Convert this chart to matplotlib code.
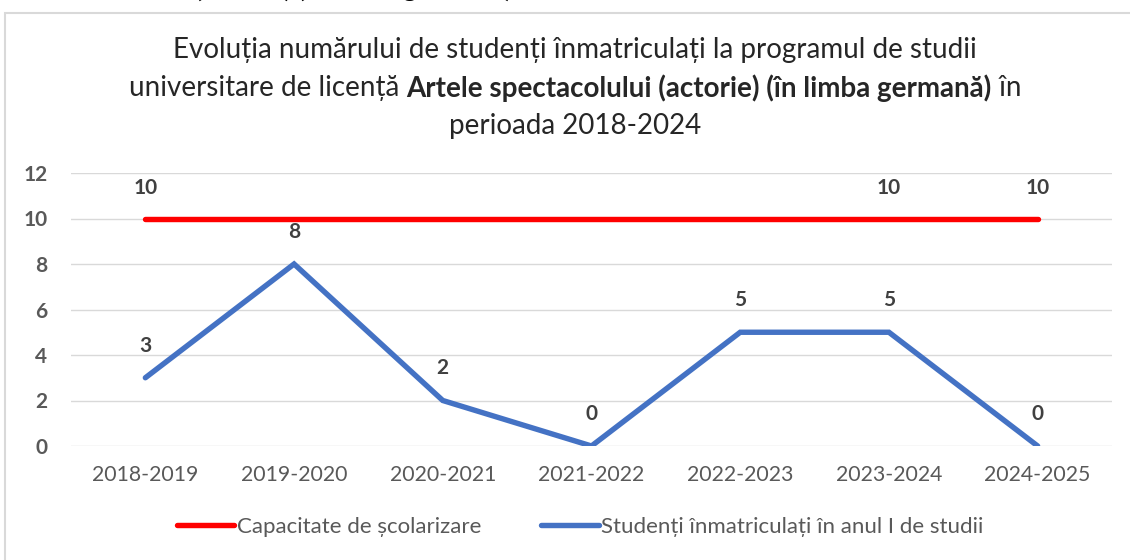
import matplotlib
matplotlib.use("Agg")
import matplotlib.pyplot as plt
from matplotlib.patches import Rectangle
from matplotlib.lines import Line2D

# --- data ---
ani = ["2018-2019", "2019-2020", "2020-2021", "2021-2022", "2022-2023", "2023-2024", "2024-2025"]
capacitate = [10, 10, 10, 10, 10, 10, 10]
inmatriculati = [3, 8, 2, 0, 5, 5, 0]
# etichetele afisate pe seria rosie (doar unele puncte)
capacitate_etichete = [0, 5, 6]

ROSU = "#ff0000"
ALBASTRU = "#4472c4"
GRI_TEXT = "#595959"
GRI_ETICH = "#404040"
FONT = "Lato"
LW = 3.9

plt.rcParams["font.family"] = [FONT, "DejaVu Sans"]

W, H = 1130, 560
fig = plt.figure(figsize=(W / 100, H / 100), dpi=100)

def px(x, y):
    # pixeli din imagine -> coordonate figura
    return x / W, 1 - y / H

# chenarul zonei graficului
fig.patches.append(Rectangle(px(5, 575), 1.2, (575 - 13) / H, transform=fig.transFigure,
                             fill=False, edgecolor="#d9d9d9", linewidth=1.5))

# text taiat din pagina de deasupra (se vad doar codițele literelor)
fig.text(*px(195, -3), "(actorie) (în limba germană)", fontsize=19, fontweight="bold",
         color="black", ha="left", va="baseline")

# zona de desen
x0, x1 = 71, 1112
y0, y1 = 446, 173
ax = fig.add_axes([x0 / W, 1 - y0 / H, (x1 - x0) / W, (y0 - y1) / H])
ax.set_xlim(-0.5, len(ani) - 0.5)
ax.set_ylim(0, 12)

xs = list(range(len(ani)))
ax.plot(xs, capacitate, color=ROSU, linewidth=LW, solid_capstyle="round", zorder=3)
ax.plot(xs, inmatriculati, color=ALBASTRU, linewidth=LW, solid_capstyle="round",
        solid_joinstyle="miter", zorder=4)

for i in capacitate_etichete:
    ax.annotate(str(capacitate[i]), (xs[i], capacitate[i]), xytext=(0, 31),
                textcoords="offset pixels", ha="center", va="center",
                fontsize=15, fontweight="bold", color=GRI_ETICH)
for x, v in zip(xs, inmatriculati):
    ax.annotate(str(v), (x, v), xytext=(0, 32), textcoords="offset pixels",
                ha="center", va="center", fontsize=15, fontweight="bold", color=GRI_ETICH)

ax.set_yticks(range(0, 13, 2))
ax.set_xticks(xs)
ax.set_xticklabels(ani)
ax.grid(axis="y", color="#d9d9d9", linewidth=1.0)
ax.set_axisbelow(True)
for s in ax.spines.values():
    s.set_visible(False)
ax.tick_params(length=0)
ax.tick_params(axis="y", pad=17, labelsize=15, labelcolor=GRI_TEXT)
for t in ax.get_yticklabels():
    t.set_fontweight("bold")
ax.tick_params(axis="x", pad=14, labelsize=15.3, labelcolor=GRI_TEXT)
ax.patch.set_alpha(0)

# titlu cu portiune ingrosata
fig.canvas.draw()
r = fig.canvas.get_renderer()
title_fs = 20
title_col = "#262626"
cx = 575

def linie(y, parti):
    texte = []
    for s, w in parti:
        t = fig.text(0, 0, s, fontsize=title_fs, fontweight=w, color=title_col,
                     ha="left", va="center")
        texte.append(t)
    lat = [t.get_window_extent(r).width for t in texte]
    start = cx - sum(lat) / 2
    for t, l in zip(texte, lat):
        t.set_position(px(start, y))
        start += l

linie(50, [("Evoluția numărului de studenți înmatriculați la programul de studii", "normal")])
linie(88, [("universitare de licență ", "normal"),
           ("Artele spectacolului (actorie) (în limba germană)", "bold"),
           (" în", "normal")])
linie(126, [("perioada 2018-2024", "normal")])

# legenda
handles = [Line2D([], [], color=ROSU, linewidth=LW, solid_capstyle="round"),
           Line2D([], [], color=ALBASTRU, linewidth=LW, solid_capstyle="round")]
fig.legend(handles, ["Capacitate de școlarizare", "Studenți înmatriculați în anul I de studii"],
           loc="center", bbox_to_anchor=px(580, 527), ncol=2, frameon=False,
           fontsize=16, labelcolor=GRI_TEXT, handlelength=2.6, handletextpad=0.1,
           columnspacing=2.7)

fig.savefig("out.png", dpi=100)
